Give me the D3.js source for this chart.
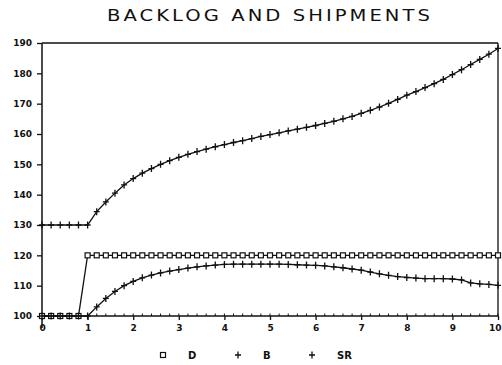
<!DOCTYPE html>
<html>
<head>
<meta charset="utf-8">
<script src="https://cdn.jsdelivr.net/npm/d3@7"></script>
<style>
  body { margin: 0; background: #fff; }
  svg { display: block; }
  text { font-family: "DejaVu Sans", sans-serif; fill: #111; }
</style>
</head>
<body>
<div id="chart"></div>
<script>
// time steps (dt = 0.2)
const time = [0,0.2,0.4,0.6,0.8,1,1.2,1.4,1.6,1.8,2,2.2,2.4,2.6,2.8,3,3.2,3.4,3.6,3.8,4,4.2,4.4,4.6,4.8,
  5,5.2,5.4,5.6,5.8,6,6.2,6.4,6.6,6.8,7,7.2,7.4,7.6,7.8,8,8.2,8.4,8.6,8.8,9,9.2,9.4,9.6,9.8,10];

const D = [100,100,100,100,100,
  120,120,120,120,120,120,120,120,120,120,120,120,120,120,120,120,120,120,120,120,120,120,120,
  120,120,120,120,120,120,120,120,120,120,120,120,120,120,120,120,120,120,120,120,120,120,120];

const B = [130,130,130,130,130,
  130,134.4,137.6,140.5,143.2,145.3,147.1,148.6,150.0,151.2,152.3,153.3,154.2,155.0,155.8,
  156.5,157.2,157.8,158.5,159.2,159.8,160.4,161.0,161.6,162.2,162.8,163.5,164.2,165.0,165.8,
  166.8,167.8,168.9,170.1,171.4,172.8,174.0,175.3,176.6,178.0,179.6,181.2,182.9,184.6,186.3,188.2];

const SR = [100,100,100,100,100,
  100,103.0,105.8,108.1,110.0,111.4,112.6,113.5,114.2,114.8,115.3,115.8,116.2,116.5,116.8,
  117.0,117.1,117.1,117.1,117.1,117.1,117.1,117.0,116.9,116.8,116.7,116.5,116.2,115.9,115.5,
  115.1,114.5,113.9,113.4,113.0,112.7,112.5,112.3,112.3,112.3,112.2,111.9,110.9,110.6,110.4,110.1];

const yTicks = [100,110,120,130,140,150,160,170,180,190];
const xTicks = [0,1,2,3,4,5,6,7,8,9,10];

const width = 502, height = 365;
const svg = d3.select("#chart").append("svg")
  .attr("width", width)
  .attr("height", height);

const x = d3.scaleLinear().domain([0, 10]).range([42, 498]);
const y = d3.scaleLinear().domain([100, 190]).range([316, 43]);

// title (wide plotter-style lettering)
svg.append("text")
  .attr("x", 107).attr("y", 21)
  .attr("textLength", 326)
  .attr("lengthAdjust", "spacingAndGlyphs")
  .style("font-size", "16px")
  .style("letter-spacing", "2.5px")
  .attr("fill", "#222")
  .text("BACKLOG AND SHIPMENTS");

// frame: top and right
svg.append("line").attr("x1", x(0)).attr("x2", x(10)).attr("y1", y(190)).attr("y2", y(190))
  .attr("stroke", "#111").attr("stroke-width", 1.3);
svg.append("line").attr("x1", x(10)).attr("x2", x(10)).attr("y1", y(190)).attr("y2", y(100))
  .attr("stroke", "#111").attr("stroke-width", 1.3);

// y axis
const yAxis = svg.append("g")
  .attr("transform", `translate(${x(0)},0)`)
  .call(d3.axisLeft(y).tickValues(yTicks).tickSize(5).tickPadding(5));
yAxis.select(".domain").attr("stroke", "#111").attr("stroke-width", 1.5)
  .attr("d", `M0,${y(190)}V${y(100) + 12}`);
yAxis.selectAll(".tick line").attr("stroke", "#111").attr("stroke-width", 1.3);
yAxis.selectAll(".tick text")
  .style("font-size", "9px").style("font-weight", "bold")
  .style("font-family", "DejaVu Sans, sans-serif").attr("fill", "#111");

// x axis
const xAxis = svg.append("g")
  .attr("transform", `translate(0,${y(100)})`)
  .call(d3.axisBottom(x).tickValues(xTicks).tickSize(4).tickPadding(5));
xAxis.select(".domain").attr("stroke", "#111").attr("stroke-width", 1.5)
  .attr("d", `M${x(0)},0H${x(10)}`);
xAxis.selectAll(".tick line").attr("stroke", "#111").attr("stroke-width", 1.3);
xAxis.selectAll(".tick text")
  .style("font-size", "9px").style("font-weight", "bold")
  .style("font-family", "DejaVu Sans, sans-serif").attr("fill", "#111")
  .attr("text-anchor", d => d === 10 ? "end" : "middle")
  .attr("dx", d => d === 10 ? 3 : 0);

// minor ticks on x axis
svg.append("g").selectAll("line")
  .data(time)
  .enter().append("line")
  .attr("x1", d => x(d)).attr("x2", d => x(d))
  .attr("y1", y(100)).attr("y2", y(100) - 2.5)
  .attr("stroke", "#111").attr("stroke-width", 1);

const line = d3.line().x(d => x(d[0])).y(d => y(d[1]));

function drawSeries(values, marker) {
  const pts = time.map((t, i) => [t, values[i]]);
  svg.append("path")
    .datum(pts)
    .attr("d", line)
    .attr("fill", "none")
    .attr("stroke", "#111")
    .attr("stroke-width", 1.3);
  const g = svg.append("g");
  pts.forEach(p => {
    const cx = x(p[0]), cy = y(p[1]);
    if (marker === "square") {
      g.append("rect")
        .attr("x", cx - 2.5).attr("y", cy - 2.5)
        .attr("width", 5).attr("height", 5)
        .attr("fill", "#fff").attr("stroke", "#111").attr("stroke-width", 1.2);
    } else {
      g.append("path")
        .attr("d", `M${cx - 3},${cy}H${cx + 3}M${cx},${cy - 3.5}V${cy + 3.5}`)
        .attr("stroke", "#111").attr("stroke-width", 1.3);
    }
  });
}

drawSeries(D, "square");
drawSeries(B, "plus");
drawSeries(SR, "plus");

// legend
const legend = [
  { name: "D", marker: "square", mx: 163, tx: 188 },
  { name: "B", marker: "plus", mx: 238, tx: 263 },
  { name: "SR", marker: "plus", mx: 312, tx: 337 }
];
const lg = svg.append("g");
legend.forEach(l => {
  const cy = 355;
  if (l.marker === "square") {
    lg.append("rect").attr("x", l.mx - 2.5).attr("y", cy - 2.5).attr("width", 5).attr("height", 5)
      .attr("fill", "#fff").attr("stroke", "#111").attr("stroke-width", 1.2);
  } else {
    lg.append("path").attr("d", `M${l.mx - 3},${cy}H${l.mx + 3}M${l.mx},${cy - 3.5}V${cy + 3.5}`)
      .attr("stroke", "#111").attr("stroke-width", 1.3);
  }
  lg.append("text").attr("x", l.tx).attr("y", cy + 4)
    .style("font-size", "10px").style("font-weight", "bold")
    .text(l.name);
});
</script>
</body>
</html>
